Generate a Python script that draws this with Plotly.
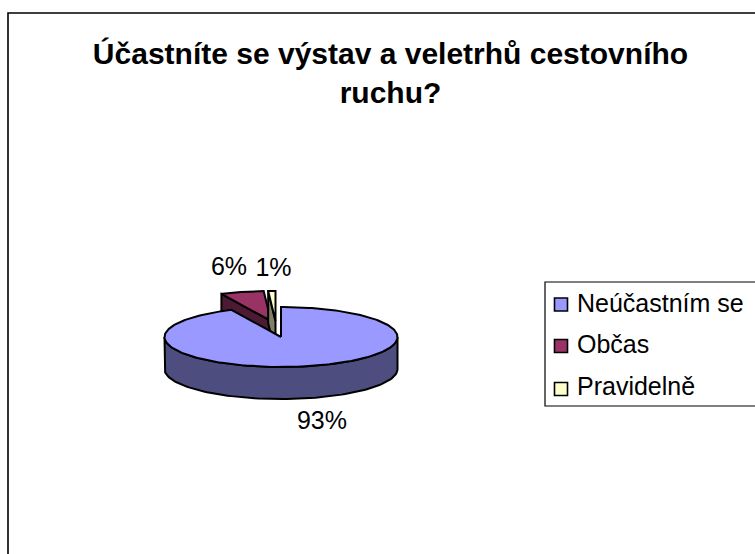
import numpy as np
import plotly.graph_objects as go

# Survey shares and labels
categories = ["Neúčastním se", "Občas", "Pravidelně"]
shares = [93, 6, 1]
title_lines = ["Účastníte se výstav a veletrhů cestovního", "ruchu?"]

top_colors = ["#9999FF", "#993366", "#FFFFCC"]
side_colors = ["#4D4D80", "#4D1A33", "#808066"]
OUTLINE = "#000000"
FONT = "Liberation Sans"

# Oblique pie geometry, in pixel-scaled axis units
CX, CY = 281, 337
RX, RY = 116.5, 30
DEPTH = 32
explode = [(0, 0), (-10, -16), (-5.5, -16)]


def rim(start, end, n=90):
    """Points on the rim between two clockwise angles measured from 12 o'clock."""
    t = np.radians(np.linspace(start, end, n))
    return RX * np.sin(t), -RY * np.cos(t)


def polygon(x, y, colour, width=2):
    return go.Scatter(
        x=list(x), y=list(y), mode="lines", fill="toself", fillcolor=colour,
        line=dict(color=OUTLINE, width=width), hoverinfo="skip", showlegend=False,
    )


edges = np.concatenate([[0], np.cumsum(shares)]) * 360 / sum(shares)
fig = go.Figure()

# Chart frame runs past the right and bottom edges of the page
fig.add_shape(type="rect", x0=8, y0=13, x1=900, y1=700,
              line=dict(color=OUTLINE, width=1.6), layer="below")

# Exploded slices go first so the large slice overlaps them
for i in (1, 2):
    ox, oy = CX + explode[i][0], CY + explode[i][1]
    rx, ry = rim(edges[i], edges[i + 1])
    # Cut face on the slice's leading edge
    fig.add_trace(polygon(
        [ox, ox + rx[0], ox + rx[0], ox, ox],
        [oy, oy + ry[0], oy + ry[0] + DEPTH, oy + DEPTH, oy],
        side_colors[i]))
    fig.add_trace(polygon(
        np.r_[ox, ox + rx, ox], np.r_[oy, oy + ry, oy], top_colors[i]))

# Front wall of the large slice
wx, wy = rim(90, 270)
fig.add_trace(polygon(
    np.r_[CX + wx, CX + wx[::-1], CX + wx[0]],
    np.r_[CY + wy, CY + wy[::-1] + DEPTH, CY + wy[0]],
    side_colors[0]))

# Top face of the large slice
rx, ry = rim(edges[0], edges[1], 240)
fig.add_trace(polygon(
    np.r_[CX, CX + rx, CX], np.r_[CY, CY + ry, CY], top_colors[0]))

# Percentage labels
label_x = [322, 229, 273.5]
label_y = [423, 269, 270]
fig.add_trace(go.Scatter(
    x=label_x, y=label_y, mode="text",
    text=[f"{v}%" for v in shares], textposition="middle center",
    textfont=dict(family=FONT, size=25, color="#000000"),
    hoverinfo="skip", showlegend=False,
))

# Key box, cut off by the right edge of the page
fig.add_shape(type="rect", x0=545, y0=282, x1=900, y1=406,
              line=dict(color=OUTLINE, width=1.2), fillcolor="#FFFFFF", layer="below")
swatch_y = [304.5, 346, 389]
key_text_y = [305.5, 347, 388.5]
fig.add_trace(go.Scatter(
    x=[561] * 3, y=swatch_y, mode="markers",
    marker=dict(symbol="square", size=13, color=top_colors,
                line=dict(color=OUTLINE, width=1.6)),
    hoverinfo="skip", showlegend=False,
))
fig.add_trace(go.Scatter(
    x=[577] * 3, y=key_text_y, mode="text", text=categories,
    textposition="middle right",
    textfont=dict(family=FONT, size=25, color="#000000"),
    hoverinfo="skip", showlegend=False,
))

fig.update_layout(
    width=755, height=554, margin=dict(l=0, r=0, t=0, b=0),
    paper_bgcolor="#FFFFFF", plot_bgcolor="#FFFFFF",
    xaxis=dict(range=[0, 755], visible=False, fixedrange=True),
    yaxis=dict(range=[554, 0], visible=False, fixedrange=True),
    title=dict(
        text="<br>".join(title_lines), x=390.5 / 755, xanchor="center",
        y=1 - 64 / 554, yanchor="top",
        font=dict(family=FONT, size=30, color="#000000", weight="bold"),
    ),
)
fig.write_html("out.html")
